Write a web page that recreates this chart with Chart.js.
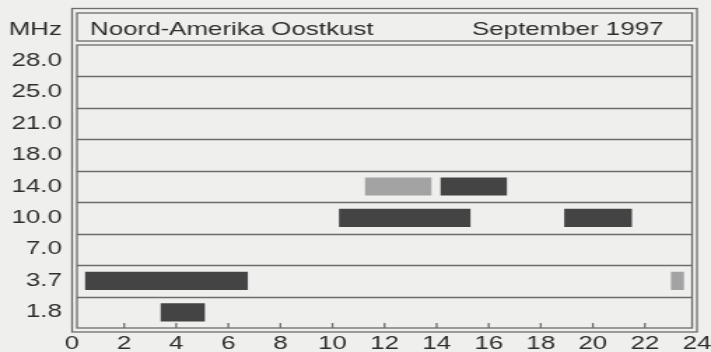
<!DOCTYPE html>
<html>
<head>
<meta charset="utf-8">
<script src="https://cdn.jsdelivr.net/npm/chart.js@4/dist/chart.umd.min.js"></script>
<style>
html, body { margin: 0; padding: 0; background: #efefed; overflow: hidden; }
/* the chart is laid out narrow and shown widened, like the printed original */
#wrap { width: 508px; height: 352px; transform: scaleX(1.3996); transform-origin: 0 0; }
</style>
</head>
<body>
<div id="wrap"><canvas id="chart" width="508" height="352"></canvas></div>
<script>
// frequency bands, top to bottom
const bands = ['28.0', '25.0', '21.0', '18.0', '14.0', '10.0', '7.0', '3.7', '1.8'];
// openings in UTC hours [from, to], one slot per band
const openMain = [null, null, null, null, [14.15, 16.7], [10.25, 15.3], null, [0.5, 6.75], [3.4, 5.1]];
const openLate = [null, null, null, null, null, [18.9, 21.5], null, null, null];
const openWeak = [null, null, null, null, [11.25, 13.8], null, null, [23, 23.5], null];

const titleLeft = 'Noord-Amerika Oostkust';
const titleRight = 'September 1997';
const unitLabel = 'MHz';

const ink = '#2e2e2e';
const lineCol = '#6c6c6c';
const fontFam = "'Liberation Sans', Arial, sans-serif";
const fontSize = 18.5;

// double frame, title strip, band separators, hour ticks
const frame = {
    id: 'frame',
    beforeDatasetsDraw(chart) {
        const ctx = chart.ctx;
        const a = chart.chartArea;
        const x = chart.scales.x;
        const y = chart.scales.y;
        const l = a.left + 3.5, r = a.right - 3.5;

        ctx.save();
        ctx.strokeStyle = lineCol;
        ctx.lineWidth = 1.3;
        ctx.strokeRect(a.left, 8.5, a.right - a.left, a.bottom + 4 - 8.5);
        ctx.strokeRect(l, 13, r - l, 28);
        ctx.strokeRect(l, a.top, r - l, a.bottom - a.top);

        ctx.beginPath();
        for (let i = 1; i < bands.length; i++) {
            const py = Math.round((y.getPixelForValue(i - 1) + y.getPixelForValue(i)) / 2) + 0.5;
            ctx.moveTo(l, py);
            ctx.lineTo(r, py);
        }
        x.ticks.forEach(t => {
            if (t.value <= 0 || t.value >= 24) return;
            const px = x.getPixelForValue(t.value);
            ctx.moveTo(px, a.bottom - 5);
            ctx.lineTo(px, a.bottom);
        });
        ctx.stroke();

        ctx.fillStyle = ink;
        ctx.font = fontSize + 'px ' + fontFam;
        ctx.textBaseline = 'alphabetic';
        ctx.textAlign = 'left';
        ctx.fillText(titleLeft, 64.3, 35);
        ctx.textAlign = 'right';
        ctx.fillText(titleRight, 474, 35);
        ctx.fillText(unitLabel, a.left - 7.3, 35);
        ctx.restore();
    }
};

const barOpts = { grouped: false, barPercentage: 0.58, categoryPercentage: 1, borderWidth: 0 };

new Chart(document.getElementById('chart'), {
    type: 'bar',
    data: {
        labels: bands,
        datasets: [
            Object.assign({ label: 'open', data: openMain, backgroundColor: '#444444' }, barOpts),
            Object.assign({ label: 'open', data: openLate, backgroundColor: '#444444' }, barOpts),
            Object.assign({ label: 'zwak', data: openWeak, backgroundColor: '#a3a3a3' }, barOpts)
        ]
    },
    options: {
        indexAxis: 'y',
        responsive: false,
        animation: false,
        layout: { padding: { top: 45, right: 10, left: 0, bottom: 0 } },
        plugins: { legend: { display: false }, tooltip: { enabled: false } },
        scales: {
            x: {
                type: 'linear',
                min: 0,
                max: 24,
                grid: { display: false, drawTicks: false },
                border: { display: false },
                ticks: {
                    stepSize: 2, autoSkip: false, maxRotation: 0, padding: 5,
                    color: ink, font: { family: fontFam, size: fontSize }
                },
                afterFit(s) {
                    s.height = 24;
                    s.paddingLeft = 0;
                    s.paddingRight = 0;
                }
            },
            y: {
                type: 'category',
                grid: { display: false, drawTicks: false },
                border: { display: false },
                ticks: { padding: 7.3, color: ink, font: { family: fontFam, size: fontSize } },
                afterFit(s) { s.width = 51.5; }
            }
        }
    },
    plugins: [frame]
});
</script>
</body>
</html>
